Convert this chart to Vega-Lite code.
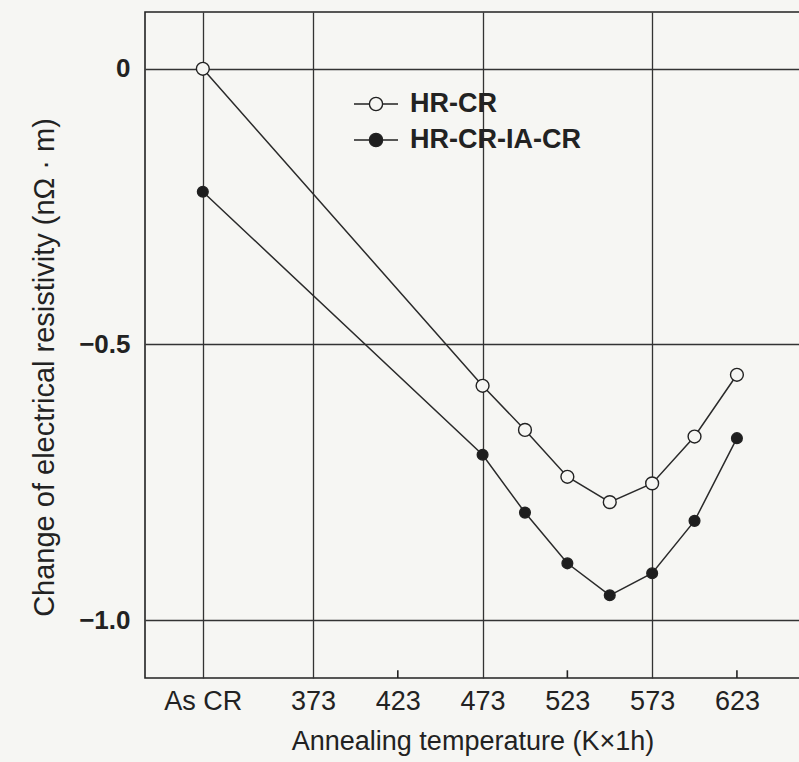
{
  "$schema": "https://vega.github.io/schema/vega-lite/v6.json",
  "width": 655,
  "height": 666,
  "autosize": {"type": "none"},
  "padding": {"left": 145, "top": 12, "right": 0, "bottom": 84},
  "background": "#f6f6f3",
  "config": {
    "font": "Liberation Sans",
    "view": {"stroke": "#222", "strokeWidth": 1.6}
  },
  "datasets": {
    "resistivity": [
      {"temp": 308, "series": "HR-CR", "rho": 0.0},
      {"temp": 473, "series": "HR-CR", "rho": -0.575},
      {"temp": 498, "series": "HR-CR", "rho": -0.655},
      {"temp": 523, "series": "HR-CR", "rho": -0.74},
      {"temp": 548, "series": "HR-CR", "rho": -0.786},
      {"temp": 573, "series": "HR-CR", "rho": -0.752},
      {"temp": 598, "series": "HR-CR", "rho": -0.667},
      {"temp": 623, "series": "HR-CR", "rho": -0.555},
      {"temp": 308, "series": "HR-CR-IA-CR", "rho": -0.223},
      {"temp": 473, "series": "HR-CR-IA-CR", "rho": -0.70},
      {"temp": 498, "series": "HR-CR-IA-CR", "rho": -0.805},
      {"temp": 523, "series": "HR-CR-IA-CR", "rho": -0.897},
      {"temp": 548, "series": "HR-CR-IA-CR", "rho": -0.955},
      {"temp": 573, "series": "HR-CR-IA-CR", "rho": -0.915},
      {"temp": 598, "series": "HR-CR-IA-CR", "rho": -0.82},
      {"temp": 623, "series": "HR-CR-IA-CR", "rho": -0.67}
    ],
    "minorTicks": [{"temp": 423}, {"temp": 523}, {"temp": 623}]
  },
  "layer": [
    {
      "data": {"name": "resistivity"},
      "mark": {"type": "line", "color": "#2a2a2a", "strokeWidth": 1.5},
      "encoding": {
        "x": {
          "field": "temp",
          "type": "quantitative",
          "scale": {"domain": [273.9, 660.2], "nice": false, "zero": false},
          "axis": {
            "values": [308, 373, 423, 473, 523, 573, 623],
            "labelExpr": "datum.value == 308 ? 'As CR' : datum.label",
            "labelFontSize": 27,
            "labelColor": "#222",
            "labelPadding": 10,
            "labelFlush": false,
            "ticks": false,
            "domain": false,
            "grid": true,
            "gridColor": "#333",
            "gridWidth": 1.3,
            "gridOpacity": {"condition": {"test": "indexof([308, 373, 473, 573], datum.value) >= 0", "value": 1}, "value": 0},
            "title": "Annealing temperature (K×1h)",
            "titleFontSize": 27,
            "titleFontWeight": "normal",
            "titleColor": "#222",
            "titleY": 50
          }
        },
        "y": {
          "field": "rho",
          "type": "quantitative",
          "scale": {"domain": [-1.105, 0.103], "nice": false, "zero": false},
          "axis": {
            "values": [0, -0.5, -1],
            "labelExpr": "datum.value == 0 ? '0' : replace(format(datum.value, '.1f'), '-', '\u2212')",
            "labelFontSize": 26,
            "labelFontWeight": "bold",
            "labelColor": "#222",
            "labelPadding": 15,
            "ticks": false,
            "domain": false,
            "grid": true,
            "gridColor": "#333",
            "gridWidth": 1.3,
            "title": "Change of electrical resistivity (nΩ · m)",
            "titleFontSize": 29,
            "titleFontWeight": "normal",
            "titleColor": "#222",
            "titleX": -86,
            "titleY": 355
          }
        },
        "detail": {"field": "series", "type": "nominal"}
      }
    },
    {
      "data": {"name": "minorTicks"},
      "mark": {"type": "rule", "color": "#222", "strokeWidth": 1.6},
      "encoding": {
        "x": {"field": "temp", "type": "quantitative"},
        "y": {"datum": -1.105, "type": "quantitative"},
        "y2": {"datum": -1.091}
      }
    },
    {
      "data": {"name": "resistivity"},
      "transform": [{"filter": "datum.series == 'HR-CR'"}],
      "mark": {"type": "point", "shape": "circle", "filled": true, "size": 165, "stroke": "#222", "strokeWidth": 1.4, "opacity": 1},
      "encoding": {
        "x": {"field": "temp", "type": "quantitative"},
        "y": {"field": "rho", "type": "quantitative"},
        "fill": {
          "field": "series",
          "type": "nominal",
          "scale": {"domain": ["HR-CR", "HR-CR-IA-CR"], "range": ["#f6f6f3", "#1e1e1e"]},
          "legend": {
            "title": null,
            "orient": "none",
            "legendX": 208,
            "legendY": 69,
            "padding": 0,
            "symbolType": "M-1,0H-0.3M0.3,0H1M-0.3,0A0.3,0.3 0 1,1 0.3,0A0.3,0.3 0 1,1 -0.3,0Z",
            "symbolSize": 1936,
            "symbolStrokeColor": "#222",
            "symbolStrokeWidth": 1.4,
            "labelFontSize": 27,
            "labelFontWeight": "bold",
            "labelColor": "#222",
            "labelOffset": 11,
            "labelLimit": 0,
            "rowPadding": -5,
            "encode": {"symbols": {"update": {"stroke": {"value": "#222"}, "strokeWidth": {"value": 1.4}, "opacity": {"value": 1}}}}
          }
        }
      }
    },
    {
      "data": {"name": "resistivity"},
      "transform": [{"filter": "datum.series == 'HR-CR-IA-CR'"}],
      "mark": {"type": "point", "shape": "circle", "filled": true, "size": 115, "stroke": "#222", "strokeWidth": 1.4, "opacity": 1},
      "encoding": {
        "x": {"field": "temp", "type": "quantitative"},
        "y": {"field": "rho", "type": "quantitative"},
        "fill": {"field": "series", "type": "nominal"}
      }
    }
  ]
}
